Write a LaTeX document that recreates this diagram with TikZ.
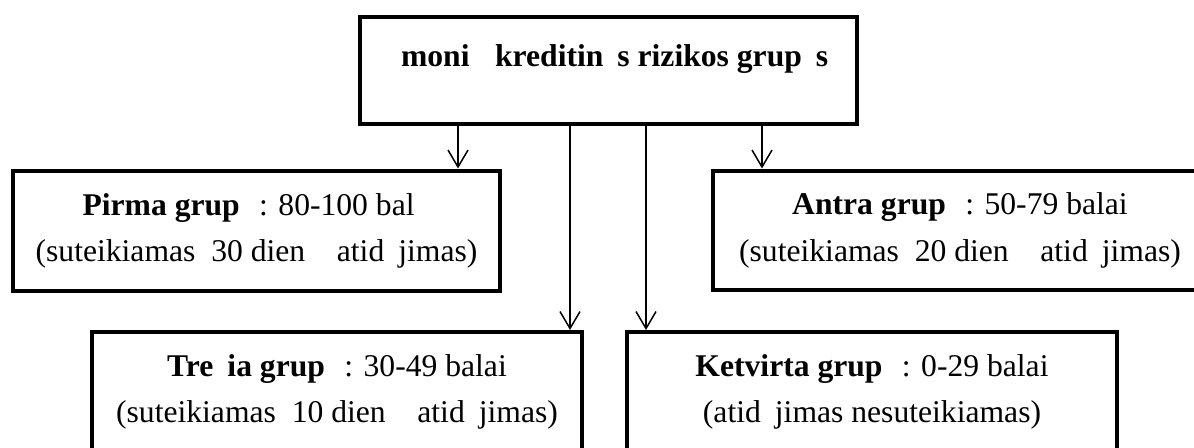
\documentclass[tikz,border=0pt]{standalone}
\usepackage{fontspec}
\setmainfont{Liberation Serif}
\usetikzlibrary{arrows.meta}
\newcommand{\gap}[1]{\hphantom{#1}}
\begin{document}
\begin{tikzpicture}[x=0.02cm, y=-0.02cm,
    box/.style={draw, line width=0.08cm, align=center, inner sep=0pt},
    arr/.style={line width=0.03cm, -{Straight Barb[length=0.34cm,width=0.4cm,line width=0.03cm]}}]
                    \clip (0,0) rectangle (1194,448);
                    {\fontsize{18pt}{26.6pt}\selectfont

                    % Main box
                    \node [box, minimum width=9.94cm, minimum height=2.16cm,
                           text height=0.5cm, text depth=0.64cm] (main) at (608.5,70.5)
                          {\textbf{\gap{Į}moni\gap{ų} kreditin\gap{ė}s rizikos grup\gap{ė}s}};

                    % Group boxes, upper row
                    \node [box, minimum width=9.74cm, minimum height=2.42cm] (g1) at (256.5,231)
                          {\textbf{Pirma grup\gap{ė}}\,: 80-100 bal\gap{ų}\\
                           (suteikiamas~ 30 dien\gap{ų}~ atid\gap{ė}jimas)};
                    \node [box, minimum width=9.88cm, minimum height=2.4cm] (g2) at (960,230.5)
                          {\textbf{Antra grup\gap{ė}}\,: 50-79 balai\\
                           (suteikiamas~ 20 dien\gap{ų}~ atid\gap{ė}jimas)};

                    % Group boxes, lower row
                    \node [box, minimum width=9.8cm, minimum height=2.4cm] (g3) at (337,392)
                          {\textbf{Tre\gap{č}ia grup\gap{ė}}\,: 30-49 balai\\
                           (suteikiamas~ 10 dien\gap{ų}~ atid\gap{ė}jimas)};
                    \node [box, minimum width=9.8cm, minimum height=2.4cm] (g4) at (872,392)
                          {\textbf{Ketvirta grup\gap{ė}}\,: 0-29 balai\\
                           (atid\gap{ė}jimas nesuteikiamas)};

                    % Arrows from main box
                    \coordinate (a1) at (458,0);
                    \coordinate (a2) at (762,0);
                    \coordinate (a3) at (570,0);
                    \coordinate (a4) at (646,0);
                    \draw [arr] (main.south -| a1) -- (g1.north -| a1);%
                    \draw [arr] (main.south -| a2) -- (g2.north -| a2);%
                    \draw [arr] (main.south -| a3) -- (g3.north -| a3);%
                    \draw [arr] (main.south -| a4) -- (g4.north -| a4);%
                    }
\end{tikzpicture}
\end{document}
